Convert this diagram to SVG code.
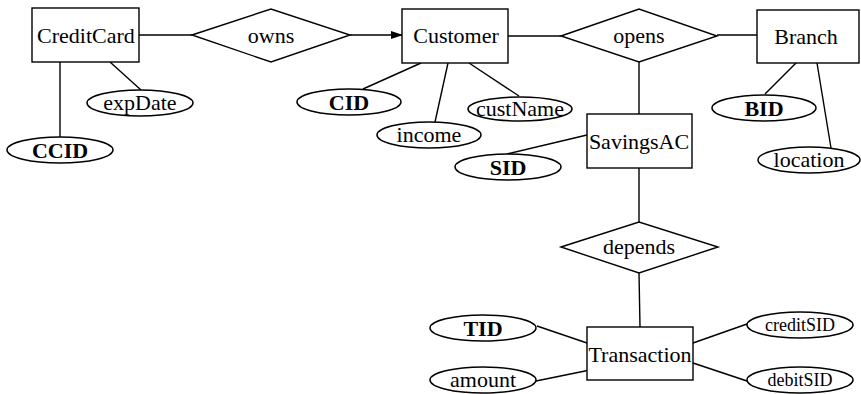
<svg xmlns="http://www.w3.org/2000/svg" width="861" height="394" viewBox="0 0 861 394">
<style>
.ent{fill:#fff;stroke:#000;stroke-width:1.4}
.rel{fill:#fff;stroke:#000;stroke-width:1.4}
.att{fill:#fff;stroke:#000;stroke-width:1.5}
.ln{stroke:#000;stroke-width:1.4;fill:none}
text{font-family:"Liberation Serif","Times New Roman",serif;font-size:22px;fill:#000;text-anchor:middle}
.key{font-weight:bold}
.sm{font-size:18px}
</style>
<defs>
<marker id="arr" markerWidth="12" markerHeight="8" refX="11" refY="4" orient="auto" markerUnits="userSpaceOnUse">
<path d="M0,0 L12,4 L0,8 Z" fill="#000"/>
</marker>
</defs>
<rect width="861" height="394" fill="#fff"/>
<g id="connectors">
<line class="ln" x1="139" y1="35" x2="192" y2="35"/>
<line class="ln" x1="350" y1="35" x2="402" y2="35" marker-end="url(#arr)"/>
<line class="ln" x1="508" y1="36" x2="561" y2="36"/>
<line class="ln" x1="717" y1="35" x2="757" y2="35"/>
<line class="ln" x1="639" y1="62" x2="639" y2="114"/>
<line class="ln" x1="639" y1="168" x2="639" y2="222"/>
<line class="ln" x1="639" y1="273" x2="640" y2="327"/>
<line class="ln" x1="110" y1="62" x2="141" y2="90"/>
<line class="ln" x1="60" y1="62" x2="60" y2="137"/>
<line class="ln" x1="421" y1="63" x2="363" y2="89"/>
<line class="ln" x1="448" y1="63" x2="435" y2="122"/>
<line class="ln" x1="469" y1="63" x2="519" y2="96"/>
<line class="ln" x1="587" y1="135" x2="507" y2="154"/>
<line class="ln" x1="797" y1="62" x2="765" y2="94"/>
<line class="ln" x1="817" y1="63" x2="831" y2="148"/>
<line class="ln" x1="537" y1="326" x2="587" y2="343"/>
<line class="ln" x1="536" y1="381" x2="590" y2="370"/>
<line class="ln" x1="693" y1="343" x2="747" y2="324"/>
<line class="ln" x1="693" y1="363" x2="747" y2="381"/>
</g>
<g id="CreditCard"><rect class="ent" x="32" y="8" width="107" height="54"/><text x="86" y="43">CreditCard</text></g>
<g id="owns"><polygon class="rel" points="192,35 271,9 350,35 271,62"/><text x="271" y="43">owns</text></g>
<g id="Customer"><rect class="ent" x="402" y="9" width="106" height="54"/><text x="456" y="43">Customer</text></g>
<g id="opens"><polygon class="rel" points="561,36 639,9 717,36 639,62"/><text x="639" y="43">opens</text></g>
<g id="Branch"><rect class="ent" x="757" y="10" width="102" height="53"/><text x="806" y="44">Branch</text></g>
<g id="SavingsAC"><rect class="ent" x="587" y="114" width="105" height="54"/><text x="639" y="149">SavingsAC</text></g>
<g id="depends"><polygon class="rel" points="561,247 639,222 718,247 639,273"/><text x="639" y="254">depends</text></g>
<g id="Transaction"><rect class="ent" x="587" y="327" width="106" height="53"/><text x="640" y="362">Transaction</text></g>
<g id="expDate"><ellipse class="att" cx="140" cy="103" rx="53" ry="13"/><text x="140" y="110">expDate</text></g>
<g id="CCID"><ellipse class="att" cx="60" cy="150" rx="53" ry="13"/><text class="key" x="60" y="158">CCID</text></g>
<g id="CID"><ellipse class="att" cx="349" cy="102" rx="52" ry="13"/><text class="key" x="349" y="110">CID</text></g>
<g id="income"><ellipse class="att" cx="429" cy="135" rx="52" ry="13"/><text x="429" y="142">income</text></g>
<g id="custName"><ellipse class="att" cx="520" cy="109" rx="52" ry="12"/><text x="520" y="116">custName</text></g>
<g id="SID"><ellipse class="att" cx="508" cy="167" rx="53" ry="13"/><text class="key" x="508" y="175">SID</text></g>
<g id="BID"><ellipse class="att" cx="764" cy="108" rx="52" ry="13"/><text class="key" x="764" y="116">BID</text></g>
<g id="location"><ellipse class="att" cx="809" cy="160" rx="51" ry="13"/><text x="809" y="167">location</text></g>
<g id="TID"><ellipse class="att" cx="483" cy="328" rx="53" ry="13"/><text class="key" x="483" y="336">TID</text></g>
<g id="amount"><ellipse class="att" cx="483" cy="380" rx="53" ry="13"/><text x="483" y="387">amount</text></g>
<g id="creditSID"><ellipse class="att" cx="800" cy="325" rx="53" ry="13"/><text class="sm" x="800" y="331">creditSID</text></g>
<g id="debitSID"><ellipse class="att" cx="800" cy="380" rx="53" ry="13"/><text class="sm" x="800" y="386">debitSID</text></g>
</svg>
